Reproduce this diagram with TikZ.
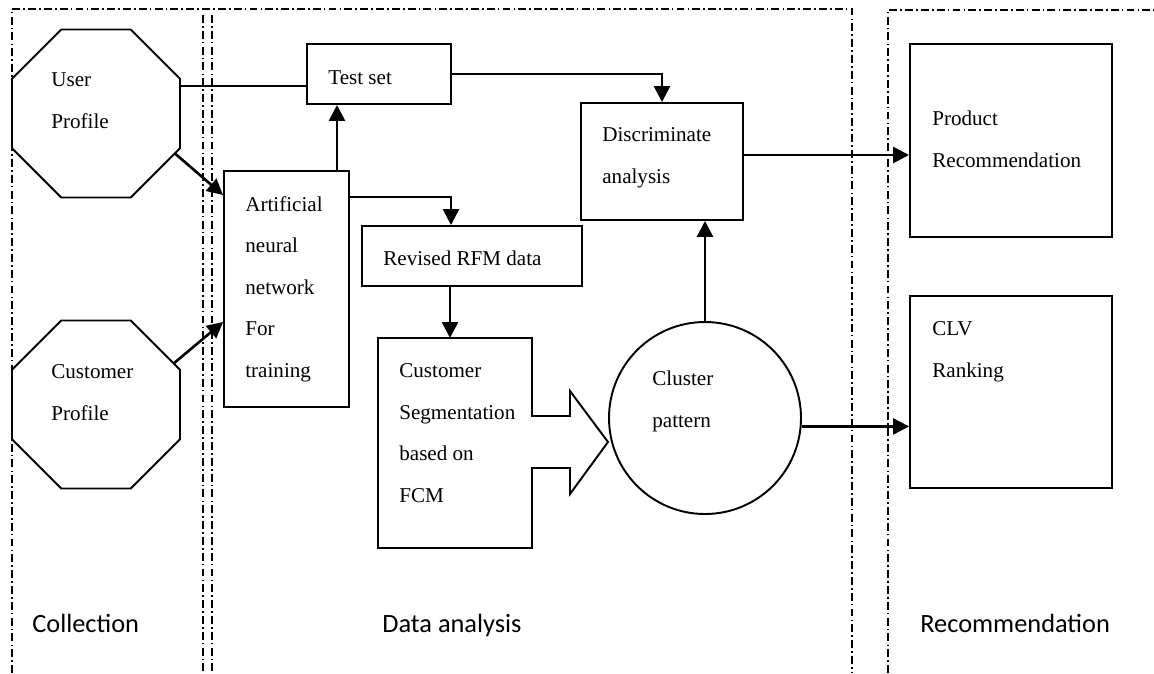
\documentclass[tikz,border=0pt]{standalone}
\usepackage{fontspec}
\setmainfont{Liberation Serif}
\newfontfamily\labelfont{Carlito}
\usetikzlibrary{shapes.geometric,arrows.meta}

\tikzset{
  box/.style={draw, line width=1.1pt, inner sep=0pt},
  octa/.style={draw, line width=1.1pt, regular polygon, regular polygon sides=8,
    minimum size=36.36mm, inner sep=0pt},
  arr/.style={line width=1.5pt, -{Triangle[length=9pt,width=9pt]}},
  region/.style={line width=0.6pt, dash pattern=on 4.5pt off 1.8pt on 0.9pt off 1.8pt},
  txt/.style={inner sep=0pt, align=left, font=\fontsize{12}{23.6}\selectfont},
  lbl/.style={inner sep=0pt, font=\labelfont\fontsize{15}{18}\selectfont}
}

\begin{document}
\begin{tikzpicture}[x=0.2mm, y=-0.2mm]
  \useasboundingbox (0,0) rectangle (1154,673);

  % swim lanes
  \draw[region] (12,673) -- (12,9) -- (852,9) -- (852,673);
  \draw[region] (203,15) -- (203,673);
  \draw[region] (212,15) -- (212,673);
  \draw[region] (888,673) -- (888,10) -- (1154,10);

  % collection
  \node[octa] (user) at (96,113.5) {};
  \node[txt, anchor=base west] (usertxt) at (51,128) {User\\Profile};
  \node[octa] (cust) at (96,404.5) {};
  \node[txt, anchor=base west] (custtxt) at (51,420) {Customer\\Profile};

  % data analysis
  \node[box, minimum width=28.8mm, minimum height=12mm] (test) at (379,74) {};
  \node[txt, anchor=base west] (testtxt) at (328,84) {Test set};
  \node[box, minimum width=25mm, minimum height=47.2mm] (ann) at (286.5,289) {};
  \node[txt, anchor=base west] (anntxt) at (245,377) {Artificial\\neural\\network\\For\\training};
  \node[box, minimum width=44mm, minimum height=12mm] (rfm) at (472,256) {};
  \node[txt, anchor=base west] (rfmtxt) at (383,265) {Revised RFM data};
  \node[box, minimum width=32.4mm, minimum height=23.4mm] (disc) at (662,161.5) {};
  \node[txt, anchor=base west] (disctxt) at (602,183) {Discriminate\\analysis};
  \node[draw, circle, line width=1.1pt, minimum size=38.4mm, inner sep=0pt] (clus) at (705,418) {};
  \node[txt, anchor=base west] (clustxt) at (652,427) {Cluster\\pattern};

  % segmentation box with arrow
  \coordinate (seg) at (450,338);
  \draw[line width=1.1pt] (378,548) -- (378,338) -- (532,338) -- (532,416) -- (570,416)
    -- (570,391) -- (608,442) -- (570,494) -- (570,468) -- (532,468) -- (532,548) -- cycle;
  \node[txt, anchor=base west] (segtxt) at (399,502) {Customer\\Segmentation\\based on\\FCM};

  % recommendation
  \node[box, minimum width=40.4mm, minimum height=38.6mm] (prod) at (1011,140.5) {};
  \node[txt, anchor=base west] (prodtxt) at (932,167) {Product\\Recommendation};
  \node[box, minimum width=40.4mm, minimum height=38.4mm] (clv) at (1011,392) {};
  \node[txt, anchor=base west] (clvtxt) at (932,377) {CLV\\Ranking};

  % connectors
  \coordinate (ut) at (0,86);
  \coordinate (tx) at (337,0);
  \coordinate (dp) at (0,155);
  \coordinate (ar) at (0,197);
  \coordinate (rx) at (451,0);
  \draw[line width=1.1pt] (user.east |- ut) -- (test.west |- ut);
  \draw[arr] (user.-27) -- (ann.west |- 0,195);
  \draw[arr] (cust.28) -- (ann.west |- 0,322);
  \draw[arr] (ann.north -| tx) -- (test.south -| tx);
  \draw[arr] (test.east) -| (disc.north);
  \draw[arr] (disc.east |- dp) -- (prod.west |- dp);
  \draw[arr] (ann.east |- ar) -| (rfm.north -| rx);
  \draw[arr] (rfm.south -| seg) -- (seg);
  \draw[arr] (clus.north) -- (disc.south -| clus.north);
  \draw[arr] (clus.-5) -- (clv.west |- clus.-5);

  % lane labels
  \node[lbl, anchor=base west] (lcol) at (32,632) {Collection};
  \node[lbl, anchor=base west] (ldat) at (382,632) {Data analysis};
  \node[lbl, anchor=base west] (lrec) at (920,632) {Recommendation};
\end{tikzpicture}
\end{document}
